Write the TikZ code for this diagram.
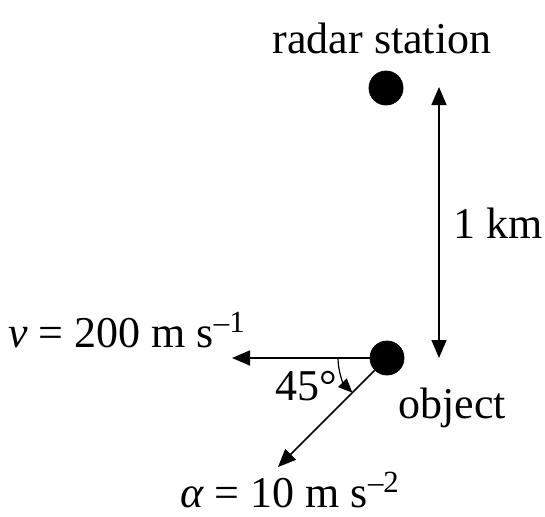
\documentclass[tikz,border=0pt]{standalone}
\usepackage{fontspec}
\setmainfont{Liberation Serif}
\usetikzlibrary{arrows.meta,calc}
\begin{document}
\begin{tikzpicture}[x=0.5pt, y=-0.5pt]
    % Define styles
    \tikzset{
        dot/.style={circle, fill=black, draw=black, minimum size=17pt, inner sep=0pt},
        label/.style={font=\fontsize{22}{26}\selectfont, inner sep=0pt},
        vecarrow/.style={-{Triangle[length=9pt, width=7.5pt]}, line width=0.75pt},
        distarrow/.style={{Triangle[length=9pt, width=7.5pt]}-{Triangle[length=9pt, width=7.5pt]}, line width=0.75pt}
    }
    \useasboundingbox (0,0) rectangle (545,516);

    % Radar station and object
    \node[dot] (radar) at (386,88) {};
    \node[dot] (obj) at (387,358) {};
    \node[label] (radarlbl) at (382,38) {radar station};
    \node[label] (objlbl) at (452,408) {object};

    % Distance between them
    \coordinate (dtop) at (439,87);
    \coordinate (dbot) at (439,358);
    \draw[distarrow] (dtop) -- (dbot);
    \node[label] (dist) at (498,223) {1 km};

    % Velocity
    \coordinate (vtip) at (232,358);
    \draw[vecarrow] (obj) -- (vtip);
    \node[label] (vlbl) at (127,330) {\textit{v} = 200 m s\textsuperscript{–1}};

    % Acceleration
    \coordinate (atip) at (278,467);
    \draw[vecarrow] (obj) -- (atip);
    \node[label] (albl) at (290,490) {\textit{α} = 10 m s\textsuperscript{–2}};

    % Angle
    \draw[-{Triangle[length=7pt, width=6pt]}, line width=0.6pt] ($(obj)+(-49,0)$) arc (180:135:49);
    \node[label] (ang) at (306,386) {45°};
\end{tikzpicture}
\end{document}
